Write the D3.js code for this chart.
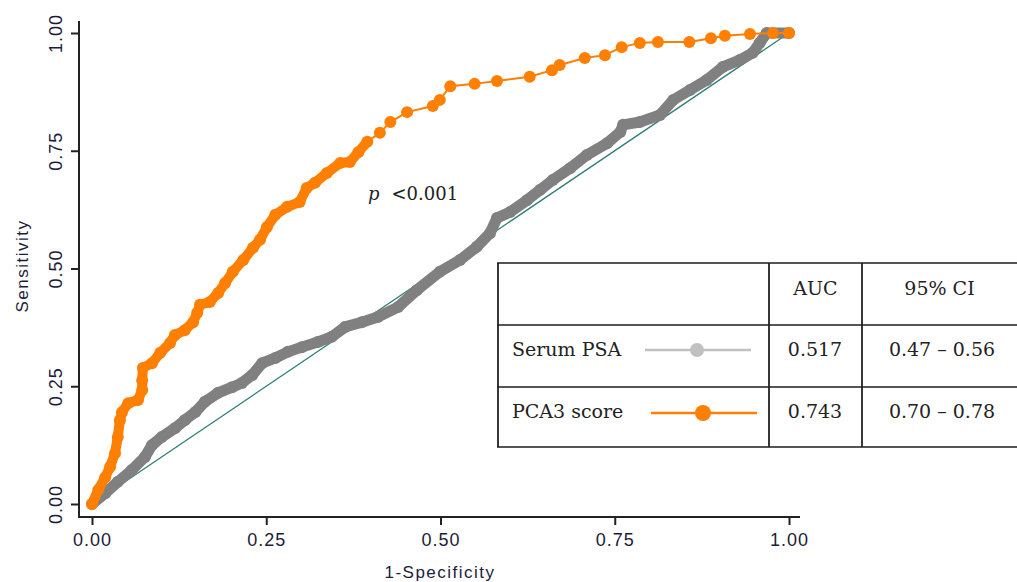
<!DOCTYPE html>
<html>
<head>
<meta charset="utf-8">
<script src="https://cdn.jsdelivr.net/npm/d3@7"></script>
<style>
  body { margin: 0; background: #fff; }
  svg { display: block; }
  .tick line { stroke: #222; stroke-width: 2; }
  .tbl { font-family: "DejaVu Serif", serif; font-size: 19px; fill: #222; }
</style>
</head>
<body>
<div class="chart"></div>
<script>
const width = 1017;
const height = 582;

// 1-specificity / sensitivity pairs
const pcaX = [0, .009, .019, .026, .033, .037, .040, .043, .052, .066, .072, .072, .073, .086, .098, .112, .119, .133, .145, .151, .155, .169, .181, .191, .202, .217, .231, .241, .251, .263, .280, .298, .308, .320, .337, .356, .370, .382, .395, .413, .428, .452, .489, .499, .514, .549, .581, .628, .660, .671, .707, .736, .760, .786, .812, .857, .888, .908, .944, .977, 1];
const pcaY = [0, .030, .057, .079, .108, .142, .178, .195, .214, .221, .242, .263, .289, .299, .321, .342, .359, .369, .386, .406, .423, .429, .448, .469, .493, .518, .544, .561, .588, .614, .631, .641, .671, .682, .703, .724, .726, .747, .769, .788, .811, .832, .845, .858, .887, .892, .898, .907, .921, .932, .947, .953, .970, .979, .981, .981, .989, .994, .998, 1, 1];

const psaX = [0, .019, .037, .057, .076, .086, .100, .119, .133, .148, .162, .181, .201, .215, .230, .244, .263, .281, .301, .324, .344, .363, .387, .410, .439, .466, .499, .528, .552, .571, .581, .600, .624, .643, .661, .686, .710, .739, .758, .762, .786, .815, .834, .858, .882, .905, .930, .948, .958, .968, 1];
const psaY = [0, .023, .047, .072, .100, .125, .142, .161, .178, .195, .217, .236, .248, .257, .274, .299, .310, .323, .333, .344, .355, .376, .386, .397, .418, .454, .493, .518, .546, .575, .607, .620, .645, .667, .688, .713, .741, .766, .790, .805, .811, .826, .858, .879, .900, .928, .943, .958, .979, 1, 1];

const ticks = [0, 0.25, 0.5, 0.75, 1];

const tableHead = ["", "AUC", "95% CI"];
const tableRows = [
    ["Serum PSA", "0.517", "0.47 \u2013 0.56"],
    ["PCA3 score", "0.743", "0.70 \u2013 0.78"]
];

const ORANGE = "#ff7f00";
const GRAY = "#808080";

const svg = d3.select(".chart").append("svg").attr("width", width).attr("height", height);

const x = d3.scaleLinear().domain([0, 1]).range([92, 789]);
const y = d3.scaleLinear().domain([0, 1]).range([504, 33]);

function tickStyle(g) {
    g.selectAll(".tick text")
        .style("font-family", "Liberation Sans, Arial, sans-serif")
        .style("font-size", "18px")
        .style("letter-spacing", "1px")
        .attr("fill", "#1c1c3a");
}

// axes
const xAxis = svg.append("g").attr("transform", "translate(0,517)")
    .call(d3.axisBottom(x).tickValues(ticks).tickFormat(d3.format(".2f")).tickSize(8).tickPadding(8).tickSizeOuter(0));
xAxis.select(".domain").remove();
xAxis.append("line").attr("x1", 79).attr("x2", 800).attr("stroke", "#222").attr("stroke-width", 2);
tickStyle(xAxis);

const yAxis = svg.append("g").attr("transform", "translate(79,0)")
    .call(d3.axisLeft(y).tickValues(ticks).tickFormat(d3.format(".2f")).tickSize(8).tickSizeOuter(0));
yAxis.select(".domain").remove();
yAxis.append("line").attr("y1", 21).attr("y2", 518).attr("stroke", "#222").attr("stroke-width", 2);
yAxis.selectAll(".tick text")
    .attr("transform", "rotate(-90)")
    .attr("x", 0).attr("y", -17)
    .attr("text-anchor", "middle")
    .attr("dy", 0);
tickStyle(yAxis);

svg.append("text").attr("transform", "translate(28,266) rotate(-90)")
    .attr("text-anchor", "middle")
    .style("font-family", "Liberation Sans, Arial, sans-serif").style("font-size", "17px").style("letter-spacing", "1.5px")
    .attr("fill", "#1c1c3a").text("Sensitivity");
svg.append("text").attr("x", 440).attr("y", 578)
    .attr("text-anchor", "middle")
    .style("font-family", "Liberation Sans, Arial, sans-serif").style("font-size", "17px").style("letter-spacing", "1.5px")
    .attr("fill", "#1c1c3a").text("1-Specificity");

// reference line
svg.append("line").attr("x1", x(0)).attr("y1", y(0)).attr("x2", x(1)).attr("y2", y(1))
    .attr("stroke", "#2e7f76").attr("stroke-width", 1.3);

const line = d3.line().x(d => x(d[0])).y(d => y(d[1]));

// serum PSA curve (dense markers -> thick band)
const psa = psaX.map((v, i) => [v, psaY[i]]);
svg.append("path").datum(psa).attr("d", line).attr("fill", "none")
    .attr("stroke", GRAY).attr("stroke-width", 11).attr("stroke-linejoin", "round");
svg.selectAll(".psa").data(psa).enter().append("circle").attr("class", "psa")
    .attr("cx", d => x(d[0])).attr("cy", d => y(d[1])).attr("r", 6).attr("fill", GRAY);

// PCA3 curve
const pca = pcaX.map((v, i) => [v, pcaY[i]]);
svg.append("path").datum(pca.filter(d => d[0] < 0.4)).attr("d", line).attr("fill", "none")
    .attr("stroke", ORANGE).attr("stroke-width", 10).attr("stroke-linejoin", "round");
svg.append("path").datum(pca).attr("d", line).attr("fill", "none")
    .attr("stroke", ORANGE).attr("stroke-width", 2);
svg.selectAll(".pca").data(pca).enter().append("circle").attr("class", "pca")
    .attr("cx", d => x(d[0])).attr("cy", d => y(d[1])).attr("r", 6).attr("fill", ORANGE);

// p value
const pt = svg.append("text").attr("x", 368).attr("y", 200).attr("class", "tbl").style("font-size", "18px");
pt.append("tspan").style("font-style", "italic").text("p");
pt.append("tspan").attr("dx", 12).text("<0.001");

// table
const rowY = [263, 325, 387, 447];
const colX = [498, 769, 862, 1017];
const tbl = svg.append("g");
rowY.forEach(r => tbl.append("line").attr("x1", 497).attr("x2", 1017).attr("y1", r).attr("y2", r)
    .attr("stroke", "#555").attr("stroke-width", 2));
colX.slice(0, 3).forEach(c => tbl.append("line").attr("x1", c).attr("x2", c).attr("y1", 263).attr("y2", 447)
    .attr("stroke", "#222").attr("stroke-width", 1.8));

tableHead.forEach((h, j) => {
    if (j == 0) return;
    tbl.append("text").attr("class", "tbl").attr("x", (colX[j] + colX[j + 1]) / 2).attr("y", 295)
        .attr("text-anchor", "middle").text(h);
});
const baseY = [356, 418];
tableRows.forEach((row, i) => {
    tbl.append("text").attr("class", "tbl").attr("x", 512).attr("y", baseY[i]).text(row[0]);
    tbl.append("text").attr("class", "tbl").attr("x", 815).attr("y", baseY[i]).attr("text-anchor", "middle").text(row[1]);
    tbl.append("text").attr("class", "tbl").attr("x", 942).attr("y", baseY[i]).attr("text-anchor", "middle").text(row[2]);
});

// legend keys
tbl.append("line").attr("x1", 645).attr("x2", 751).attr("y1", 350).attr("y2", 350).attr("stroke", "#c0c0c0").attr("stroke-width", 2.5);
tbl.append("circle").attr("cx", 697).attr("cy", 350).attr("r", 7).attr("fill", "#c0c0c0");
tbl.append("line").attr("x1", 651).attr("x2", 757).attr("y1", 413).attr("y2", 413).attr("stroke", ORANGE).attr("stroke-width", 2.5);
tbl.append("circle").attr("cx", 703).attr("cy", 413).attr("r", 8).attr("fill", ORANGE);
</script>
</body>
</html>
